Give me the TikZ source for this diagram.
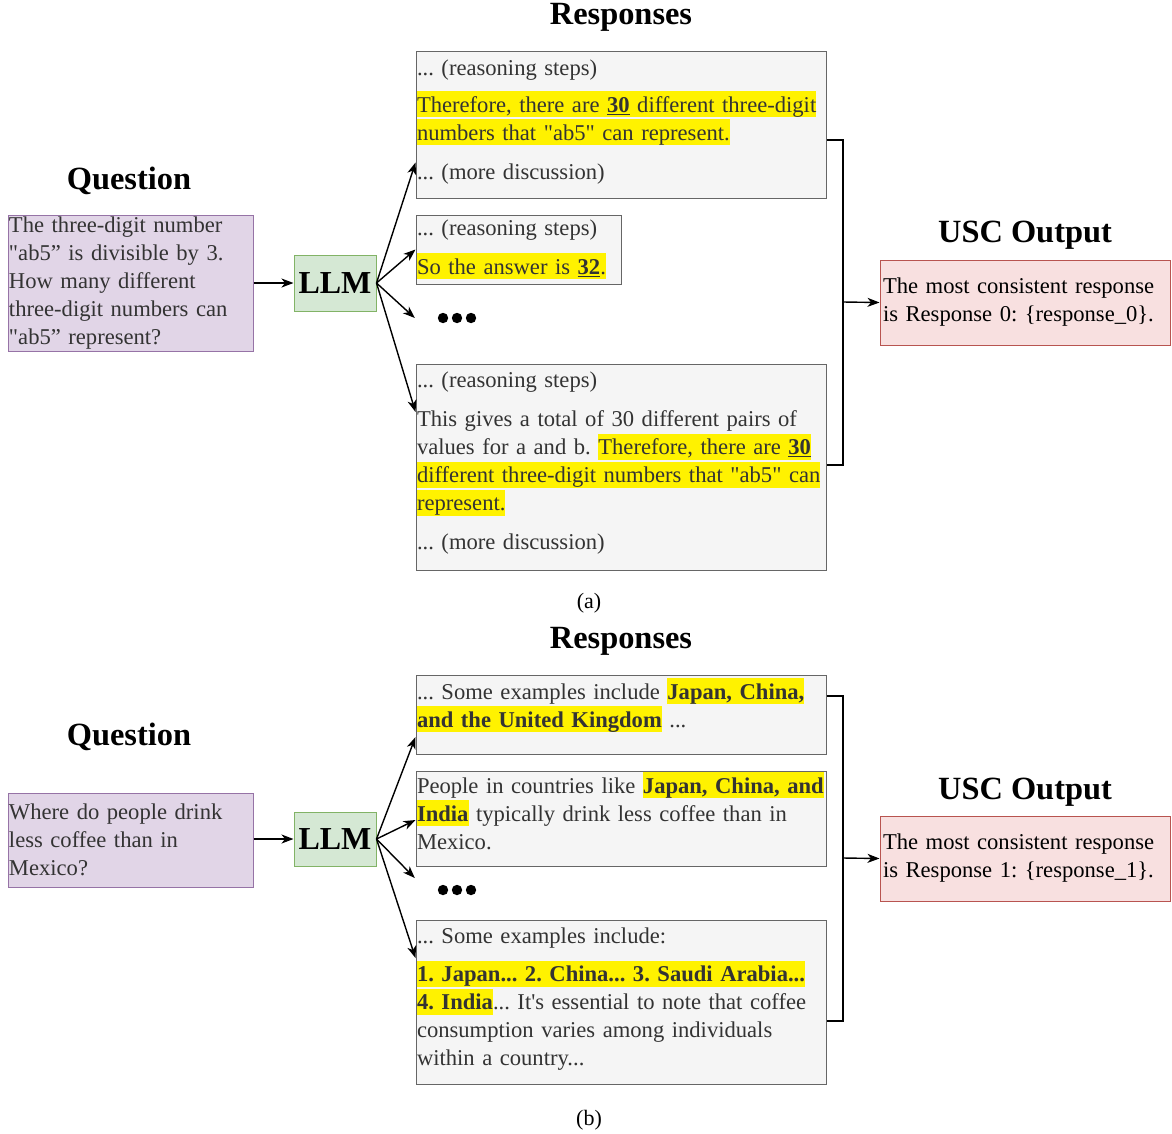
\documentclass[tikz,border=0pt]{standalone}
\usepackage{fontspec}
\newfontfamily\tnr{Liberation Serif}
\usetikzlibrary{arrows.meta}
\definecolor{qfill}{HTML}{E1D5E7}
\definecolor{qdraw}{HTML}{9673A6}
\definecolor{lfill}{HTML}{D5E8D4}
\definecolor{ldraw}{HTML}{82B366}
\definecolor{rfill}{HTML}{F5F5F5}
\definecolor{rdraw}{HTML}{666666}
\definecolor{ufill}{HTML}{F8E0E0}
\definecolor{udraw}{HTML}{B85450}
\definecolor{txt}{HTML}{333333}
\newcommand{\hl}[1]{{\setlength{\fboxsep}{0pt}\colorbox{yellow}{\rule[-5pt]{0pt}{26pt}#1}}}
\newcommand{\ubf}[1]{\underline{\textbf{#1}}}
\newcommand{\lift}[1]{\\[#1]\mbox{}}% pushes the text block up a little
\frenchspacing
\begin{document}
\begin{tikzpicture}[x=1pt,y=-1pt,
    body/.style={font=\tnr\fontsize{22.6}{28}\selectfont, align=left, text=txt},
    question/.style={body, draw=qdraw, fill=qfill, line width=1pt, inner xsep=1pt, inner ysep=0pt},
    llm/.style={draw=ldraw, fill=lfill, line width=1pt, font=\tnr\fontsize{32}{36}\selectfont\bfseries, inner sep=0pt},
    resp/.style={body, draw=rdraw, fill=rfill, line width=1pt, inner xsep=1pt, inner ysep=0pt},
    usc/.style={body, text=black, draw=udraw, fill=ufill, line width=1pt, inner xsep=3pt, inner ysep=0pt},
    title/.style={font=\tnr\fontsize{32.4}{36}\selectfont\bfseries},
    caption/.style={font=\tnr\fontsize{22}{28}\selectfont},
    arr/.style={-{Stealth[length=12pt,width=9pt,inset=3.5pt]}, line width=1.4pt},
    link/.style={line width=1.4pt}
  ]
\useasboundingbox (0,0) rectangle (1172,1133);

% ---------------- (a)
\node[title] (hqa) at (129,181) {Question};
\node[title] (hra) at (621,17) {Responses};
\node[title] (hua) at (1025,235) {USC Output};

\node[question, minimum width=245, minimum height=136, text width=243] (qa) at (130.5,283)
  {The three-digit number\\ "ab5” is divisible by 3.\\ How many different\\ three-digit numbers can\\ "ab5” represent?};
\node[llm, minimum width=82, minimum height=56] (llma) at (335,283) {LLM};

\node[resp, minimum width=410, minimum height=147, text width=408] (ra1) at (621,124.5)
  {... (reasoning steps)\\[9pt]
   \hl{Therefore, there are \ubf{30} different three-digit}\\
   \hl{numbers that "ab5" can represent.}\\[11pt]
   ... (more discussion)\lift{-18pt}};
\node[resp, minimum width=205, minimum height=69, text width=203] (ra2) at (518.5,249.5)
  {... (reasoning steps)\\[11pt]
   \hl{So the answer is \ubf{32}.}};
\node[minimum width=84, minimum height=12, inner sep=0pt] (da) at (457,318) {};
\foreach \dx in {-14,0,14} \fill ([xshift=\dx pt]da.center) circle (5.2pt);
\node[resp, minimum width=410, minimum height=206, text width=408] (ra3) at (621,467)
  {... (reasoning steps)\\[11pt]
   This gives a total of 30 different pairs of\\
   values for a and b. \hl{Therefore, there are \ubf{30}}\\
   \hl{different three-digit numbers that "ab5" can}\\
   \hl{represent.}\\[11pt]
   ... (more discussion)\lift{-16pt}};

\node[usc, minimum width=290, minimum height=85, text width=284] (usca) at (1025,302.5)
  {The most consistent response\\ is Response 0: \{response\_0\}.};
\node[caption] (capa) at (589,603) {(a)};

\coordinate (ja) at (843,302);
\draw[arr] (qa) -- (llma);
\draw[arr] (llma.east) -- ([yshift=-38pt]ra1.west);
\draw[arr] (llma.east) -- (ra2.west);
\draw[arr] (llma.east) -- (da.west);
\draw[arr] (llma.east) -- ([yshift=55pt]ra3.west);
\draw[link] ([yshift=-15.5pt]ra1.east) -| (ja) |- ([yshift=2pt]ra3.east);
\draw[arr] (ja) -- (usca.west);

% ---------------- (b)
\node[title] (hqb) at (129,737) {Question};
\node[title] (hrb) at (621,641) {Responses};
\node[title] (hub) at (1025,792) {USC Output};

\node[question, minimum width=245, minimum height=94, text width=243] (qb) at (130.5,840)
  {Where do people drink\\ less coffee than in\\ Mexico?};
\node[llm, minimum width=82, minimum height=54] (llmb) at (335,839) {LLM};

\node[resp, minimum width=410, minimum height=79, text width=408] (rb1) at (621,714.5)
  {... Some examples include \hl{\textbf{Japan, China,}}\\
   \hl{\textbf{and the United Kingdom}} ...\lift{-4pt}};
\node[resp, minimum width=410, minimum height=95, text width=408] (rb2) at (621,818.5)
  {\mbox{People in countries like \hl{\textbf{Japan, China, and}}}\\
   \hl{\textbf{India}} typically drink less coffee than in\\
   Mexico.\lift{-12pt}};
\node[minimum width=84, minimum height=12, inner sep=0pt] (db) at (457,890) {};
\foreach \dx in {-14,0,14} \fill ([xshift=\dx pt]db.center) circle (5.2pt);
\node[resp, minimum width=410, minimum height=164, text width=408] (rb3) at (621,1002)
  {... Some examples include:\\[10pt]
   \hl{\textbf{1. Japan... 2. China... 3. Saudi Arabia...}}\\
   \hl{\textbf{4. India}}... It's essential to note that coffee\\
   consumption varies among individuals\\
   within a country...\lift{-18pt}};

\node[usc, minimum width=290, minimum height=85, text width=284] (uscb) at (1025,858.5)
  {The most consistent response\\ is Response 1: \{response\_1\}.};
\node[caption] (capb) at (589,1120) {(b)};

\coordinate (jb) at (843,858);
\draw[arr] (qb.east |- llmb.west) -- (llmb.west);
\draw[arr] (llmb.east) -- ([yshift=-22.5pt]rb1.west);
\draw[arr] (llmb.east) -- ([yshift=-1.5pt]rb2.west);
\draw[arr] (llmb.east) -- ([yshift=12pt]db.west);
\draw[arr] (llmb.east) -- ([yshift=44pt]rb3.west);
\draw[link] ([yshift=18.5pt]rb1.east) -| (jb) |- ([yshift=-19pt]rb3.east);
\draw[arr] (jb) -- (uscb.west);
\end{tikzpicture}
\end{document}
